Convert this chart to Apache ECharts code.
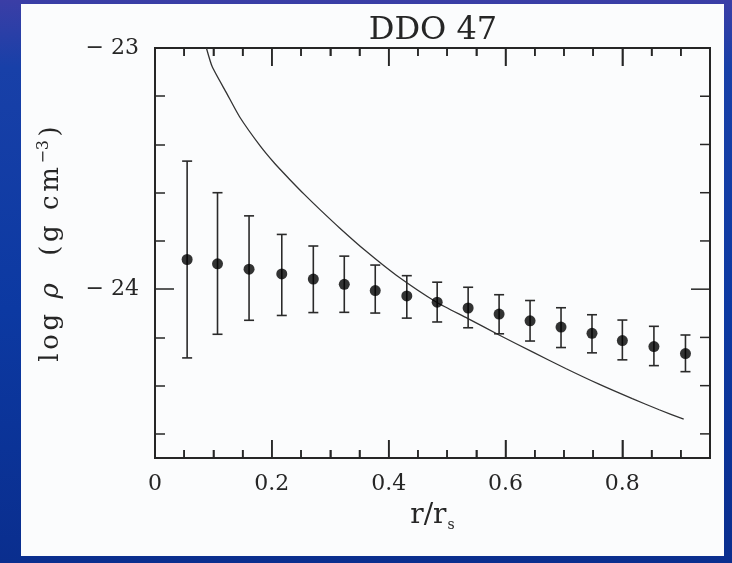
<!DOCTYPE html>
<html>
<head>
<meta charset="utf-8">
<script src="https://cdn.jsdelivr.net/npm/echarts@6/dist/echarts.min.js"></script>
<style>
html,body{margin:0;padding:0;}
body{width:732px;height:563px;background:linear-gradient(to bottom,#3b3ea6 0%,#1840a8 12%,#0c39a2 55%,#0a2e8e 100%);}
#chart{width:732px;height:563px;}
</style>
</head>
<body>
<div id="chart"></div>
<script>
// ---- data ----
var pointX = [0.055, 0.107, 0.161, 0.217, 0.271, 0.324, 0.377, 0.431, 0.483, 0.536, 0.589, 0.642, 0.695, 0.748, 0.800, 0.854, 0.908];
var pointY = [-23.877, -23.895, -23.917, -23.937, -23.958, -23.980, -24.006, -24.028, -24.054, -24.078, -24.103, -24.131, -24.157, -24.183, -24.213, -24.238, -24.267];
var errHigh = [-23.469, -23.600, -23.696, -23.773, -23.821, -23.863, -23.900, -23.944, -23.971, -23.992, -24.023, -24.047, -24.077, -24.106, -24.128, -24.154, -24.190];
var errLow = [-24.285, -24.187, -24.129, -24.109, -24.097, -24.096, -24.099, -24.120, -24.136, -24.160, -24.185, -24.215, -24.242, -24.264, -24.293, -24.317, -24.342];

var curveX = [0.088, 0.098, 0.123, 0.145, 0.180, 0.205, 0.231, 0.256, 0.282, 0.316, 0.361, 0.413, 0.482, 0.535, 0.589, 0.646, 0.703, 0.760, 0.817, 0.863, 0.905];
var curveY = [-23.000, -23.078, -23.189, -23.286, -23.406, -23.479, -23.546, -23.608, -23.669, -23.746, -23.842, -23.942, -24.054, -24.121, -24.190, -24.260, -24.329, -24.394, -24.454, -24.500, -24.539];

var xMajorTicks = [0, 0.2, 0.4, 0.6, 0.8];
var xMinorTicks = [0.05, 0.1, 0.15, 0.25, 0.3, 0.35, 0.45, 0.5, 0.55, 0.65, 0.7, 0.75, 0.85, 0.9];
var yMajorTicks = [-24, -23];
var yMinorTicks = [-24.6, -24.4, -24.2, -23.8, -23.6, -23.4, -23.2];

var xMin = 0, xMax = 0.95, yMin = -24.7, yMax = -23;

// ---- chart ----
var ink = '#262626';
var font = 'DejaVu Serif';

function spaced(str, style) {
  return str.split('').map(function (c) { return '{' + style + '|' + c + '}'; }).join('');
}

function xAxisDef(pos, ticks, len, showLabel) {
  return {
    type: 'value', position: pos, min: xMin, max: xMax,
    splitLine: {show: false},
    axisLine: {show: true, lineStyle: {color: ink, width: 2}},
    axisTick: {show: true, inside: true, length: len, customValues: ticks, lineStyle: {color: ink, width: 1.5}},
    axisLabel: showLabel ? {
      show: true, customValues: xMajorTicks, margin: 15,
      color: ink, fontFamily: font, fontSize: 22,
      formatter: function (v) { return String(v); }
    } : {show: false}
  };
}
function yAxisDef(pos, ticks, len, showLabel) {
  return {
    type: 'value', position: pos, min: yMin, max: yMax,
    splitLine: {show: false},
    axisLine: {show: true, lineStyle: {color: ink, width: 2}},
    axisTick: {show: true, inside: true, length: len, customValues: ticks, lineStyle: {color: ink, width: 1.5}},
    axisLabel: showLabel ? {
      show: true, customValues: yMajorTicks, margin: 16,
      color: ink, fontFamily: font, fontSize: 22,
      formatter: function (v) { return String(v).replace('-', '\u2212 '); }
    } : {show: false}
  };
}

var xAxes = [
  xAxisDef('bottom', xMajorTicks, 18, true),
  xAxisDef('bottom', xMinorTicks, 8, false),
  xAxisDef('top', xMajorTicks, 18, false),
  xAxisDef('top', xMinorTicks, 8, false)
];
xAxes[0].name = '{a|r/r}{s|s}';
xAxes[0].nameLocation = 'middle';
xAxes[0].nameGap = 42;
xAxes[0].nameTextStyle = {
  rich: {
    a: {fontFamily: font, fontSize: 28, color: ink, lineHeight: 32},
    s: {fontFamily: font, fontSize: 14, color: ink, verticalAlign: 'bottom', lineHeight: 32, padding: [14, 0, 0, 1]}
  }
};

var yAxes = [
  yAxisDef('left', yMajorTicks, 19, true),
  yAxisDef('left', yMinorTicks, 10, false)
];
yAxes[0].name = spaced('log ', 'a') + '{r|\u03c1}' + spaced('  (g cm', 'a') + '{p|\u22123}{a|)}';
yAxes[0].nameLocation = 'middle';
yAxes[0].nameRotate = 90;
yAxes[0].nameGap = 89;
yAxes[0].nameTextStyle = {
  padding: [0, 0, 0, 18],
  rich: {
    a: {fontFamily: font, fontSize: 26, color: ink, lineHeight: 30, padding: [0, 1.8, 0, 1.8]},
    r: {fontFamily: font, fontSize: 26, fontStyle: 'italic', color: ink, lineHeight: 30, padding: [0, 1.8, 0, 1.8]},
    p: {fontFamily: font, fontSize: 16, color: ink, verticalAlign: 'top', lineHeight: 30, padding: [0, 1.8, 12, 1.8]}
  }
};

var errData = pointX.map(function (x, i) { return [x, errLow[i], errHigh[i]]; });
var pointData = pointX.map(function (x, i) { return [x, pointY[i]]; });
var curveData = curveX.map(function (x, i) { return [x, curveY[i]]; });

// x tick marks (bottom + top frame), looked up by index
var xTickVals = xMajorTicks.concat(xMinorTicks);
var xTickMajor = xMajorTicks.map(function () { return true; }).concat(xMinorTicks.map(function () { return false; }));
var xTickData = xTickVals.map(function (v) { return [v, -24]; });
// y tick marks on the right frame: [y, kind] 3 = major, 2 = minor
var yTickData = yMajorTicks.map(function (v) { return [xMax, v, 3]; })
  .concat(yMinorTicks.map(function (v) { return [xMax, v, 2]; }));

var option = {
  backgroundColor: 'transparent',
  animation: false,
  title: {
    text: 'DDO 47', left: 428, top: 10, textAlign: 'center',
    textStyle: {fontFamily: font, fontSize: 32, fontWeight: 'normal', color: ink}
  },
  graphic: [{
    type: 'rect', z: -10, silent: true,
    shape: {x: 21, y: 4, width: 703, height: 552},
    style: {fill: '#fbfcfd'}
  }],
  grid: {left: 155, top: 48, right: 22, bottom: 105, containLabel: false,
         show: true, borderColor: ink, borderWidth: 2, backgroundColor: 'transparent'},
  xAxis: xAxes,
  yAxis: yAxes,
  series: [
    {
      type: 'custom', data: yTickData, xAxisIndex: 0, yAxisIndex: 0, z: 5, silent: true, clip: false,
      renderItem: function (params, api) {
        var kind = api.value(2);
        var len2 = kind === 3 ? 19 : 10;
        var r = api.coord([xMax, api.value(1)]);
        return {type: 'line', shape: {x1: r[0], y1: r[1], x2: r[0] - len2, y2: r[1]}, style: {stroke: ink, lineWidth: 1.5}};
      }
    },
    {
      type: 'custom', data: xTickData, xAxisIndex: 0, yAxisIndex: 0, z: 6, silent: true, clip: false,
      renderItem: function (params, api) {
        var i = params.dataIndex;
        var v = xTickVals[i];
        var len = xTickMajor[i] ? 18 : 8;
        var b = api.coord([v, yMin]);
        var t = api.coord([v, yMax]);
        return {
          type: 'group',
          children: [
            {type: 'rect', shape: {x: b[0] - 0.75, y: b[1] - len, width: 1.5, height: len}, style: {fill: ink}},
            {type: 'rect', shape: {x: t[0] - 0.75, y: t[1], width: 1.5, height: len}, style: {fill: ink}}
          ]
        };
      }
    },
    {
      type: 'line', data: curveData, xAxisIndex: 0, yAxisIndex: 0,
      showSymbol: false, smooth: 0.2, clip: true,
      lineStyle: {color: '#333', width: 1.3}, z: 2
    },
    {
      type: 'custom', data: errData, xAxisIndex: 0, yAxisIndex: 0, z: 3,
      renderItem: function (params, api) {
        var x = api.value(0);
        var lo = api.coord([x, api.value(1)]);
        var hi = api.coord([x, api.value(2)]);
        var hw = 5;
        var st = {stroke: '#2a2a2a', lineWidth: 1.6};
        return {
          type: 'group',
          children: [
            {type: 'line', shape: {x1: lo[0], y1: lo[1], x2: hi[0], y2: hi[1]}, style: st},
            {type: 'line', shape: {x1: lo[0] - hw, y1: lo[1], x2: lo[0] + hw, y2: lo[1]}, style: st},
            {type: 'line', shape: {x1: hi[0] - hw, y1: hi[1], x2: hi[0] + hw, y2: hi[1]}, style: st}
          ]
        };
      }
    },
    {
      type: 'scatter', data: pointData, xAxisIndex: 0, yAxisIndex: 0, z: 4,
      symbol: 'circle', symbolSize: 11,
      itemStyle: {color: '#000'}
    }
  ]
};

var chart = echarts.init(document.getElementById('chart'), null, {renderer: 'canvas'});
chart.setOption(option);
</script>
</body>
</html>
